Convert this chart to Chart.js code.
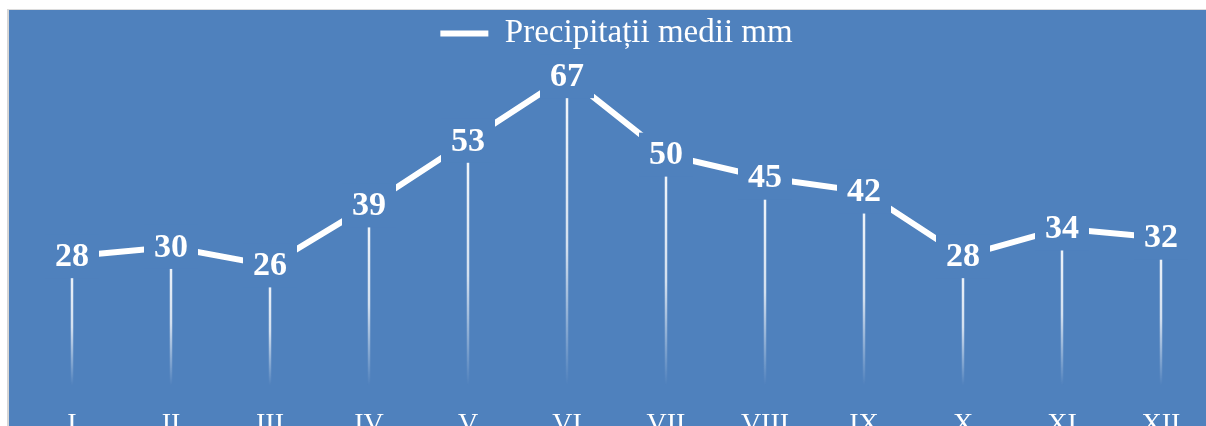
<!DOCTYPE html>
<html>
<head>
<meta charset="utf-8">
<script src="https://cdn.jsdelivr.net/npm/chart.js@4.4.1/dist/chart.umd.min.js"></script>
<style>
html, body { margin: 0; padding: 0; background: #fff; overflow: hidden; width: 1206px; height: 426px; }
#panou { position: absolute; left: 7px; top: 9px; width: 1212px; height: 464px; background: #4f81bd;
         border-left: 2px solid #d6d6d6; border-top: 1px solid #dcdcdc; }
#grafic { display: block; }
</style>
</head>
<body>
<div id="panou"><canvas id="grafic" width="1212" height="464"></canvas></div>
<script>
// Date
const luni = ['I', 'II', 'III', 'IV', 'V', 'VI', 'VII', 'VIII', 'IX', 'X', 'XI', 'XII'];
const precipitatii = [28, 30, 26, 39, 53, 67, 50, 45, 42, 28, 34, 32];
const numeSerie = 'Precipitații medii mm';

const albastru = '#4f81bd';
const serif = "'Liberation Serif', 'Times New Roman', serif";

// Linii verticale (drop lines) si etichetele valorilor
const etichete = {
    id: 'etichete',
    beforeDatasetsDraw(chart) {
        const ctx = chart.ctx;
        const y0 = chart.scales.y.getPixelForValue(0);
        chart.getDatasetMeta(0).data.forEach(p => {
            const g = ctx.createLinearGradient(0, p.y, 0, y0);
            g.addColorStop(0, 'rgba(255,255,255,0.95)');
            g.addColorStop(0.55, 'rgba(255,255,255,0.75)');
            g.addColorStop(1, 'rgba(255,255,255,0)');
            ctx.save();
            ctx.strokeStyle = g;
            ctx.lineWidth = 2.5;
            ctx.beginPath();
            ctx.moveTo(p.x, p.y);
            ctx.lineTo(p.x, y0);
            ctx.stroke();
            ctx.restore();
        });
    },
    afterDatasetsDraw(chart) {
        const ctx = chart.ctx;
        ctx.save();
        ctx.font = 'bold 34px ' + serif;
        ctx.textAlign = 'center';
        ctx.textBaseline = 'middle';
        chart.getDatasetMeta(0).data.forEach((p, i) => {
            const txt = String(precipitatii[i]);
            const w = ctx.measureText(txt).width + 20;
            ctx.fillStyle = albastru;
            ctx.fillRect(p.x - w / 2, p.y - 22, w, 44);
            ctx.fillStyle = '#fff';
            ctx.fillText(txt, p.x, p.y + 1);
        });
        ctx.restore();
    }
};

const ctx = document.getElementById('grafic').getContext('2d');
const grafic = new Chart(ctx, {
    type: 'line',
    data: {
        labels: luni,
        datasets: [{
            label: numeSerie,
            data: precipitatii,
            borderColor: '#fff',
            backgroundColor: '#fff',
            borderWidth: 6,
            borderCapStyle: 'round',
            pointRadius: 0,
            tension: 0
        }]
    },
    options: {
        responsive: false,
        animation: false,
        layout: { padding: { left: 13.5, right: 10.5, top: 0, bottom: 10 } },
        plugins: {
            legend: {
                position: 'top',
                labels: {
                    color: '#fff',
                    font: { family: serif, size: 33 },
                    usePointStyle: true,
                    pointStyle: 'line',
                    pointStyleWidth: 48,
                    padding: 7
                }
            },
            tooltip: { enabled: false }
        },
        scales: {
            x: {
                offset: true,
                grid: { display: false, drawTicks: false },
                border: { display: false },
                ticks: { color: '#fff', font: { family: serif, size: 28 }, padding: 22.5 }
            },
            y: {
                display: false,
                min: 0,
                max: 70.5
            }
        }
    },
    plugins: [etichete]
});
</script>
</body>
</html>
